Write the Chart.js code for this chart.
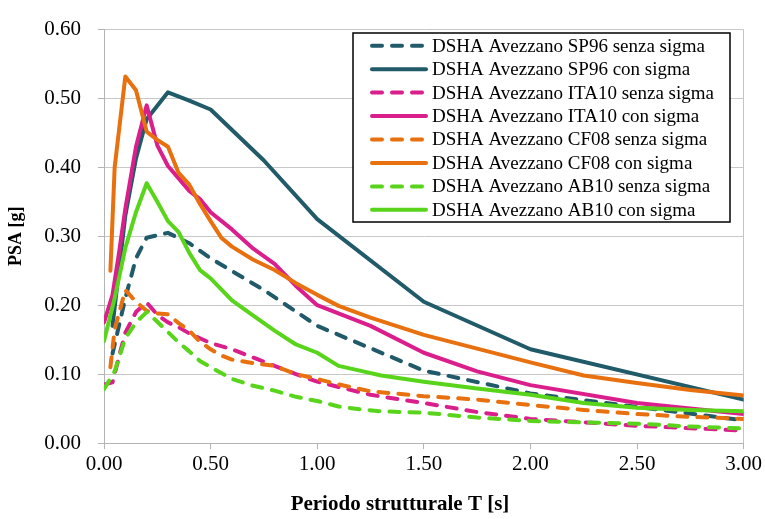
<!DOCTYPE html>
<html lang="it">
<head>
<meta charset="utf-8">
<title>DSHA Avezzano - PSA</title>
<script src="https://cdn.jsdelivr.net/npm/chart.js@4.4.1/dist/chart.umd.min.js"></script>
<style>
    html, body { margin: 0; padding: 0; background: #fff; }
    #wrap { width: 765px; height: 519px; }
</style>
</head>
<body>
<div id="wrap"><canvas id="psaChart" width="765" height="519"></canvas></div>
<script>
// Periodi (s) per ciascun modello
const periodiSP96 = [0.04, 0.1, 0.15, 0.2, 0.3, 0.4, 0.5, 0.75, 1.0, 1.5, 2.0, 3.0];
const periodiITA10 = [0, 0.04, 0.07, 0.1, 0.15, 0.2, 0.25, 0.3, 0.35, 0.4, 0.45, 0.5, 0.6, 0.7, 0.8, 0.9, 1.0, 1.25, 1.5, 1.75, 2.0, 2.5, 3.0];
const periodiCF08 = [0.03, 0.05, 0.1, 0.15, 0.2, 0.25, 0.3, 0.35, 0.4, 0.45, 0.5, 0.55, 0.6, 0.7, 0.8, 0.9, 1.0, 1.1, 1.25, 1.5, 1.75, 2.0, 2.25, 2.5, 2.75, 3.0];
const periodiAB10 = [0, 0.05, 0.1, 0.15, 0.2, 0.25, 0.3, 0.35, 0.4, 0.45, 0.5, 0.6, 0.7, 0.8, 0.9, 1.0, 1.1, 1.2, 1.3, 1.5, 1.75, 2.0, 2.25, 2.5, 2.75, 3.0];

// PSA [g]
const sp96Senza = [0.13, 0.21, 0.268, 0.298, 0.305, 0.29, 0.268, 0.222, 0.17, 0.105, 0.072, 0.033];
const sp96Con = [0.17, 0.33, 0.413, 0.47, 0.509, 0.497, 0.484, 0.41, 0.325, 0.205, 0.136, 0.063];
const ita10Senza = [0.085, 0.088, 0.125, 0.16, 0.19, 0.204, 0.186, 0.175, 0.168, 0.159, 0.152, 0.145, 0.136, 0.124, 0.112, 0.1, 0.089, 0.07, 0.058, 0.045, 0.035, 0.025, 0.018];
const ita10Con = [0.175, 0.215, 0.275, 0.34, 0.43, 0.49, 0.432, 0.402, 0.384, 0.366, 0.354, 0.335, 0.31, 0.282, 0.26, 0.228, 0.2, 0.17, 0.131, 0.104, 0.084, 0.058, 0.042];
const cf08Senza = [0.11, 0.165, 0.222, 0.205, 0.192, 0.188, 0.187, 0.174, 0.163, 0.147, 0.136, 0.127, 0.121, 0.116, 0.112, 0.1, 0.093, 0.085, 0.075, 0.068, 0.063, 0.055, 0.048, 0.042, 0.038, 0.035];
const cf08Con = [0.25, 0.40, 0.532, 0.512, 0.452, 0.44, 0.43, 0.392, 0.375, 0.347, 0.322, 0.298, 0.285, 0.266, 0.251, 0.232, 0.215, 0.199, 0.182, 0.157, 0.137, 0.117, 0.098, 0.087, 0.077, 0.069];
const ab10Senza = [0.078, 0.104, 0.152, 0.175, 0.19, 0.176, 0.161, 0.146, 0.133, 0.119, 0.11, 0.093, 0.083, 0.076, 0.067, 0.061, 0.053, 0.049, 0.046, 0.044, 0.037, 0.032, 0.03, 0.028, 0.024, 0.021];
const ab10Con = [0.148, 0.21, 0.283, 0.335, 0.377, 0.35, 0.322, 0.306, 0.276, 0.251, 0.239, 0.207, 0.185, 0.163, 0.143, 0.131, 0.112, 0.105, 0.098, 0.089, 0.079, 0.07, 0.058, 0.051, 0.048, 0.046];

// Tick degli assi
const tickY = [0, 0.1, 0.2, 0.3, 0.4, 0.5, 0.6];
const tickX = [0, 0.5, 1.0, 1.5, 2.0, 2.5, 3.0];

const TITOLO_X = 'Periodo strutturale T [s]';
const TITOLO_Y = 'PSA [g]';

const COL_SP96 = '#215a68';
const COL_ITA10 = '#da1f8c';
const COL_CF08 = '#e8700e';
const COL_AB10 = '#58d51a';
const TRATTEGGIO = [10, 10];
const SPESSORE = 4;
const FONT = '"Liberation Serif", "Times New Roman", serif';

// Unisce periodi e valori in punti {x, y}
const punti = (periodi, valori) => periodi.map((t, i) => ({ x: t, y: valori[i] }));

const serie = (label, colore, periodi, valori, tratteggiata, ordine) => ({
    label: label,
    data: punti(periodi, valori),
    borderColor: colore,
    backgroundColor: colore,
    borderWidth: SPESSORE,
    borderDash: tratteggiata ? TRATTEGGIO : [],
    borderCapStyle: 'round',
    borderJoinStyle: 'round',
    pointRadius: 0,
    tension: 0,
    fill: false,
    order: ordine
});

// Legenda nel riquadro in alto a destra e titolo dell'asse X
const legendaBox = {
    id: 'legendaBox',
    afterDraw(chart) {
        const { ctx } = chart;
        const x0 = 353, y0 = 33, w = 377, h = 189;
        ctx.save();
        ctx.fillStyle = '#ffffff';
        ctx.fillRect(x0, y0, w, h);
        ctx.strokeStyle = '#000000';
        ctx.lineWidth = 1.5;
        ctx.strokeRect(x0, y0, w, h);
        chart.data.datasets.forEach((ds, i) => {
            const y = y0 + 12.7 + i * 23.45;
            ctx.beginPath();
            ctx.setLineDash(ds.borderDash);
            ctx.lineCap = 'round';
            ctx.strokeStyle = ds.borderColor;
            ctx.lineWidth = SPESSORE;
            ctx.moveTo(x0 + 19, y);
            ctx.lineTo(x0 + 73, y);
            ctx.stroke();
            ctx.setLineDash([]);
            ctx.fillStyle = '#000000';
            ctx.font = '19px ' + FONT;
            ctx.textBaseline = 'middle';
            ctx.textAlign = 'left';
            ctx.fillText(ds.label, x0 + 79, y + 1);
        });

        ctx.font = 'bold 21px ' + FONT;
        ctx.textAlign = 'center';
        ctx.textBaseline = 'middle';
        ctx.fillStyle = '#000000';
        ctx.fillText(TITOLO_X, 400, 505);
        ctx.restore();
    }
};

const ctx = document.getElementById('psaChart');

new Chart(ctx, {
    type: 'line',
    data: {
        datasets: [
            serie('DSHA Avezzano SP96 senza sigma', COL_SP96, periodiSP96, sp96Senza, true, 8),
            serie('DSHA Avezzano SP96 con sigma', COL_SP96, periodiSP96, sp96Con, false, 7),
            serie('DSHA Avezzano ITA10 senza sigma', COL_ITA10, periodiITA10, ita10Senza, true, 6),
            serie('DSHA Avezzano ITA10 con sigma', COL_ITA10, periodiITA10, ita10Con, false, 5),
            serie('DSHA Avezzano CF08 senza sigma', COL_CF08, periodiCF08, cf08Senza, true, 4),
            serie('DSHA Avezzano CF08 con sigma', COL_CF08, periodiCF08, cf08Con, false, 3),
            serie('DSHA Avezzano AB10 senza sigma', COL_AB10, periodiAB10, ab10Senza, true, 2),
            serie('DSHA Avezzano AB10 con sigma', COL_AB10, periodiAB10, ab10Con, false, 1)
        ]
    },
    options: {
        responsive: false,
        animation: false,
        layout: {
            padding: { top: 17, right: 20, bottom: 0, left: 0 }
        },
        plugins: {
            legend: { display: false },
            tooltip: { enabled: false }
        },
        scales: {
            x: {
                type: 'linear',
                min: 0,
                max: 3,
                afterFit: (scale) => { scale.height = 76; },
                afterBuildTicks: (scale) => { scale.ticks = tickX.map(v => ({ value: v })); },
                ticks: {
                    color: '#000',
                    font: { family: FONT, size: 21 },
                    padding: 3,
                    maxRotation: 0,
                    callback: (v) => Number(v).toFixed(2)
                },
                grid: {
                    color: (c) => (c.tick && c.tick.value === 3 ? '#c4c4c4' : 'transparent'),
                    tickColor: '#b4b4b4',
                    tickLength: 6,
                    lineWidth: 1
                },
                border: { color: '#b4b4b4', width: 1 },
                title: { display: false }
            },
            y: {
                type: 'linear',
                min: 0,
                max: 0.6,
                afterFit: (scale) => { scale.width = 104; },
                afterBuildTicks: (scale) => { scale.ticks = tickY.map(v => ({ value: v })); },
                ticks: {
                    color: '#000',
                    font: { family: FONT, size: 21 },
                    padding: 17,
                    callback: (v) => Number(v).toFixed(2)
                },
                grid: {
                    color: '#c8c8c8',
                    tickColor: '#b4b4b4',
                    tickLength: 6,
                    lineWidth: 1
                },
                border: { color: '#b4b4b4', width: 1 },
                title: {
                    display: true,
                    text: TITOLO_Y,
                    color: '#000',
                    font: { family: FONT, size: 18, weight: 'bold' },
                    padding: { top: 6, bottom: 0 }
                }
            }
        }
    },
    plugins: [legendaBox]
});
</script>
</body>
</html>
